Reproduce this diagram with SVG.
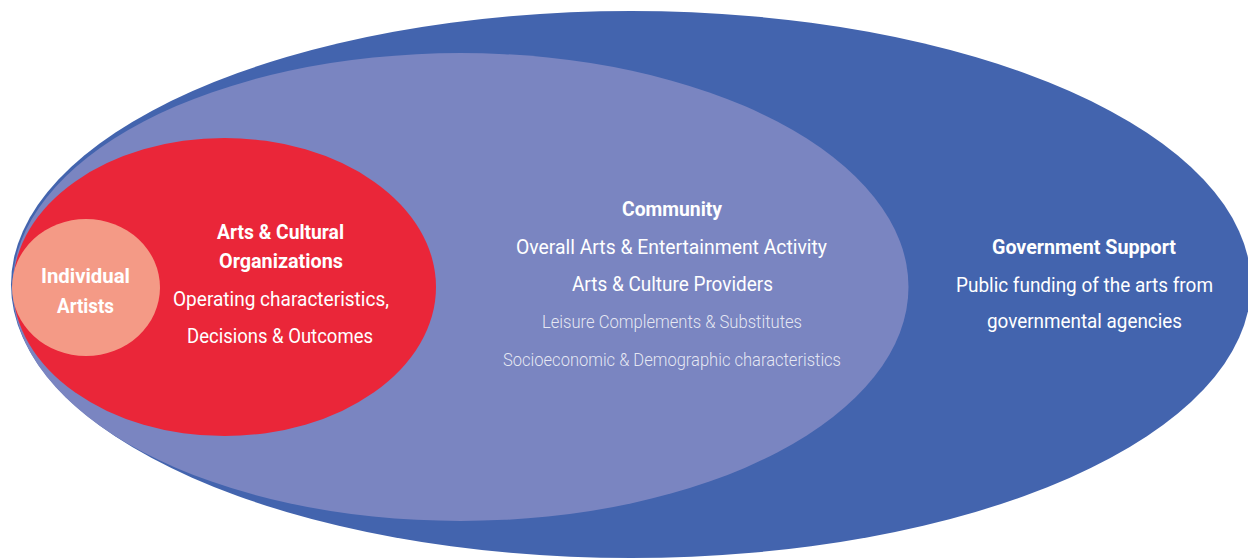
<svg xmlns="http://www.w3.org/2000/svg" width="1248" height="559" viewBox="0 0 1248 559">
<style>
text{font-family:Roboto,"Liberation Sans",sans-serif;fill:#fff;text-anchor:middle}
.b{font-weight:700;font-size:20px}
.r{font-weight:400;font-size:21px}
.l{font-weight:300;font-size:18px;fill:#fff;fill-opacity:0.82}
</style>
<rect width="1248" height="559" fill="#fff"/>
<g id="government">
<ellipse cx="631" cy="284.5" rx="620" ry="273.5" fill="#4364AE"/>
<text class="b" x="1084" y="254" textLength="184" lengthAdjust="spacingAndGlyphs">Government Support</text>
<text class="r" x="1084.5" y="292" textLength="257" lengthAdjust="spacingAndGlyphs">Public funding of the arts from</text>
<text class="r" x="1084.5" y="328" textLength="195" lengthAdjust="spacingAndGlyphs">governmental agencies</text>
</g>
<g id="community">
<ellipse cx="460.5" cy="287" rx="448" ry="234" fill="#7A85C1"/>
<text class="b" x="672" y="216" style="font-size:21px" textLength="100" lengthAdjust="spacingAndGlyphs">Community</text>
<text class="r" x="671.5" y="254" textLength="311" lengthAdjust="spacingAndGlyphs">Overall Arts &amp; Entertainment Activity</text>
<text class="r" x="672.5" y="291" textLength="201" lengthAdjust="spacingAndGlyphs">Arts &amp; Culture Providers</text>
<text class="l" x="672" y="328" textLength="260" lengthAdjust="spacingAndGlyphs">Leisure Complements &amp; Substitutes</text>
<text class="l" x="672" y="366" textLength="338" lengthAdjust="spacingAndGlyphs">Socioeconomic &amp; Demographic characteristics</text>
</g>
<g id="organizations">
<ellipse cx="224.5" cy="287" rx="211.5" ry="149" fill="#EA2639"/>
<text class="b" x="280.5" y="239" textLength="127" lengthAdjust="spacingAndGlyphs">Arts &amp; Cultural</text>
<text class="b" x="281" y="268" textLength="124" lengthAdjust="spacingAndGlyphs">Organizations</text>
<text class="r" x="281" y="306" style="font-size:20px" textLength="216" lengthAdjust="spacingAndGlyphs">Operating characteristics,</text>
<text class="r" x="280" y="343" style="font-size:20px" textLength="186" lengthAdjust="spacingAndGlyphs">Decisions &amp; Outcomes</text>
</g>
<g id="artists">
<ellipse cx="86" cy="287.5" rx="74" ry="68.5" fill="#F49A86"/>
<text class="b" x="85.5" y="283" textLength="89" lengthAdjust="spacingAndGlyphs">Individual</text>
<text class="b" x="85.5" y="313" textLength="57" lengthAdjust="spacingAndGlyphs">Artists</text>
</g>
<g id="connectors"/>
</svg>
